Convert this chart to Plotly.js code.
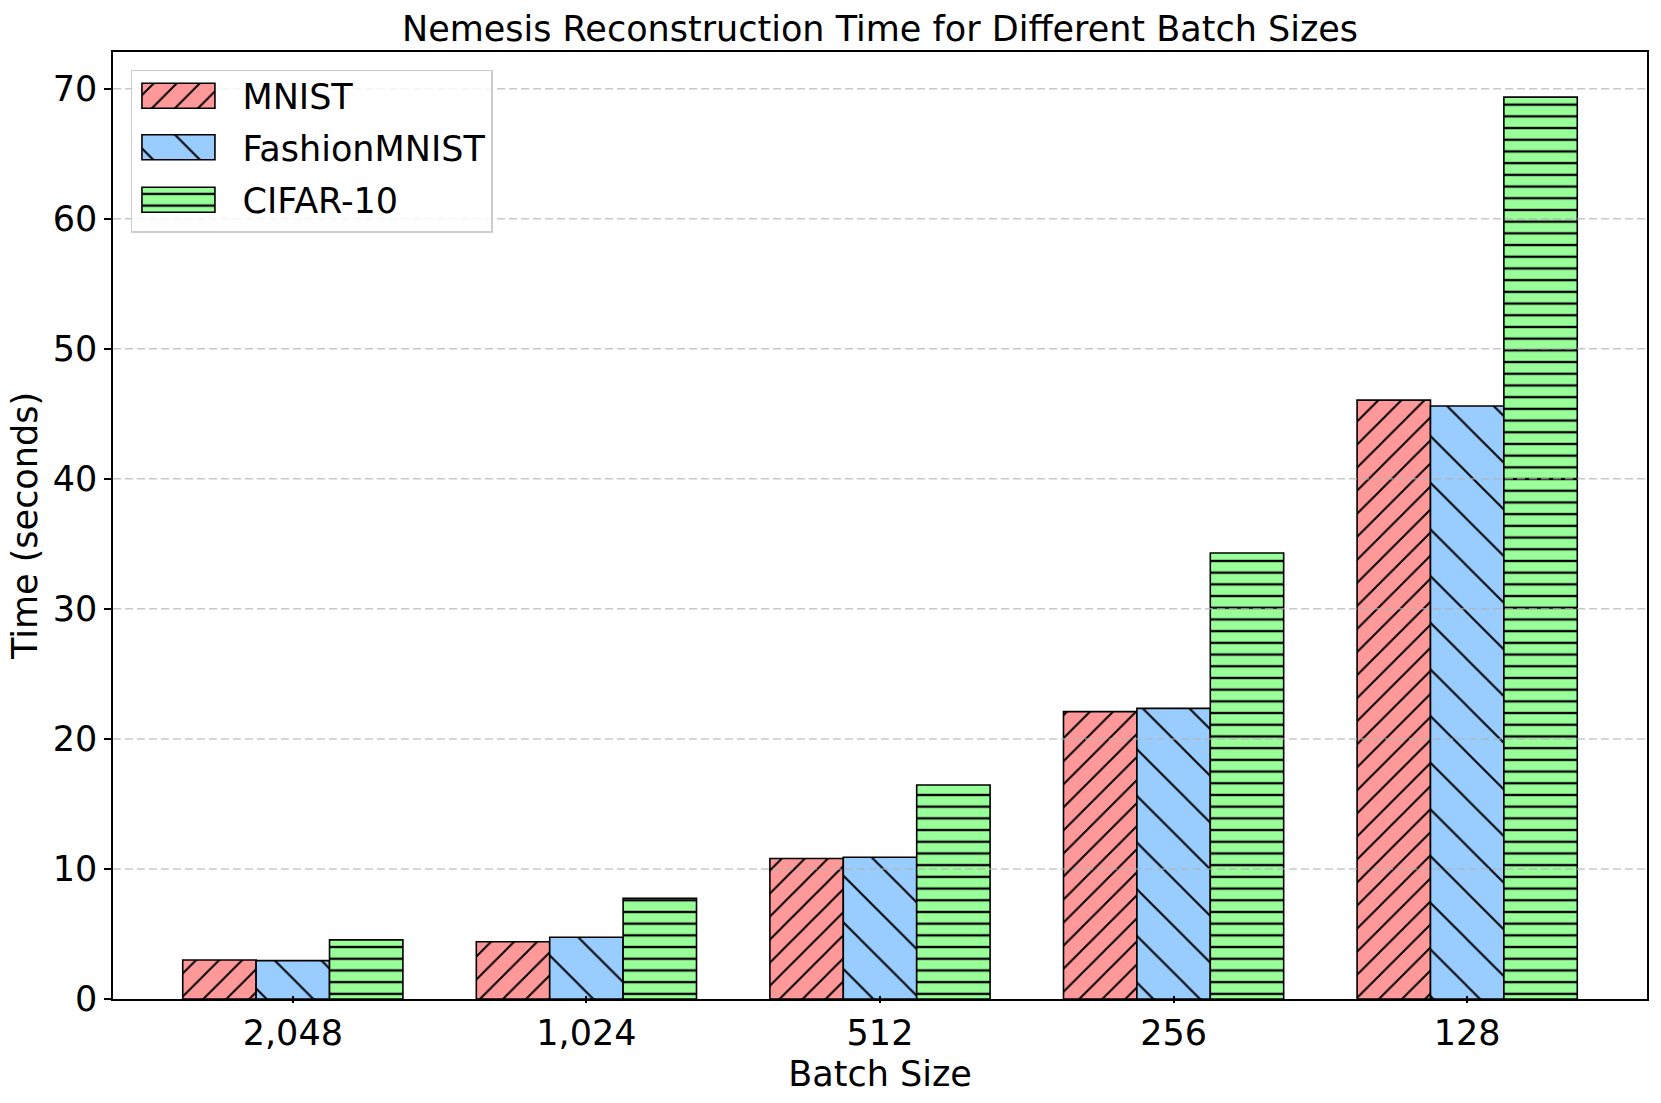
<!DOCTYPE html>
<html><head><meta charset="utf-8">
<script src="https://cdn.plot.ly/plotly-3.0.1.min.js"></script>
<style>html,body{margin:0;padding:0;background:#fff}</style>
</head><body>
<div id="chart" style="width:1661px;height:1103px"></div>
<script>
const batchSizes = ["2,048", "1,024", "512", "256", "128"];
const mnist = [3.0, 4.4, 10.8, 22.1, 46.05];
const fashion = [2.95, 4.75, 10.9, 22.35, 45.6];
const cifar = [4.55, 7.75, 16.45, 34.3, 69.35];
const seriesNames = ["MNIST", "FashionMNIST", "CIFAR-10"];
const yTicks = [0, 10, 20, 30, 40, 50, 60, 70];

const FONT = "DejaVu Sans, sans-serif";
const FS = 35;
function bar(name, y, color, shape, size, solidity, grp) {
  return {
    type: 'bar', name: name, x: batchSizes, y: y, legendgroup: grp,
    marker: {
      color: color, line: {color: '#000', width: 1.6},
      pattern: {shape: shape, fgcolor: '#000', bgcolor: color, size: size, solidity: solidity, fgopacity: 1}
    },
    hoverinfo: 'name+y'
  };
}
const data = [
  bar(seriesNames[0], mnist, '#ff9999', '/', 16.3, 0.12, 'g1'),
  bar(seriesNames[1], fashion, '#99ccff', '\\', 33, 0.06, 'g2'),
  bar(seriesNames[2], cifar, '#99ff99', '-', 11.7, 0.2, 'g3')
];
const grid = yTicks.slice(1).map(v => ({
  type: 'line', xref: 'paper', x0: 0, x1: 1, yref: 'y', y0: v, y1: v,
  line: {color: 'rgba(176,176,176,0.7)', width: 1.5, dash: '8px,4px'}, layer: 'above'
}));
const layout = {
  width: 1661, height: 1103,
  margin: {l: 113, r: 14, t: 52, b: 104},
  paper_bgcolor: '#fff', plot_bgcolor: '#fff',
  font: {family: FONT, size: FS, color: '#000'},
  title: {text: 'Nemesis Reconstruction Time for Different Batch Sizes', font: {size: FS},
          x: 0.5, xref: 'paper', xanchor: 'center', y: 1 - 28.6 / 1103, yanchor: 'middle', yref: 'container'},
  barmode: 'group', bargap: 0.25, bargroupgap: 0,
  xaxis: {
    type: 'category', range: [-0.6125, 4.6125],
    showline: true, linecolor: '#000', linewidth: 1.6, mirror: true,
    ticks: 'outside', ticklen: 7, tickwidth: 1.5, tickcolor: '#000',
    showgrid: false, zeroline: false,
    tickfont: {size: FS},
    title: {text: 'Batch Size', font: {size: FS}, standoff: 6},
    automargin: false
  },
  yaxis: {
    range: [0, 72.82], tickvals: yTicks,
    showline: true, linecolor: '#000', linewidth: 1.6, mirror: true,
    ticks: 'outside', ticklen: 7, tickwidth: 1.5, tickcolor: '#000',
    showgrid: false, zeroline: false,
    tickfont: {size: FS},
    title: {text: 'Time (seconds)', font: {size: FS}, standoff: 4},
    automargin: false
  },
  shapes: grid,
  legend: {
    x: 0.0117, y: 0.981, xanchor: 'left', yanchor: 'top',
    bgcolor: 'rgba(255,255,255,0.8)', bordercolor: '#cccccc', borderwidth: 1.5,
    font: {size: FS}, itemwidth: 100, traceorder: 'grouped', tracegroupgap: 2
  },
  showlegend: true
};
function nudge(el, dy) {
  const tr = el.getAttribute('transform') || '';
  el.setAttribute('transform', 'translate(0,' + dy + ') ' + tr);
}
Plotly.newPlot('chart', data, layout, {displayModeBar: false}).then(function (gd) {
  const barFills = [];
  document.querySelectorAll('.barlayer .trace').forEach(function (t) {
    const p = t.querySelector('.point path');
    barFills.push(p ? p.style.fill : null);
  });
  const shifts = [-5, -4, -2];
  document.querySelectorAll('.legend .traces').forEach(function (item, i) {
    const p = item.querySelector('.legendpoints path');
    if (p) {
      p.setAttribute('d', 'M-45.5,-12.5H27.5V12.5H-45.5Z');
      p.style.strokeWidth = '1.6px';
      if (barFills[i]) p.style.fill = barFills[i];
    }
    const tr = item.getAttribute('transform') || '';
    item.setAttribute('transform', tr + ' translate(0,' + (shifts[i] || 0) + ')');
  });
  const xl = document.querySelector('.xaxislayer-above');
  if (xl) nudge(xl, -5);
  const xt = document.querySelector('.g-xtitle');
  if (xt) nudge(xt, -4);
});
</script>
</body></html>
